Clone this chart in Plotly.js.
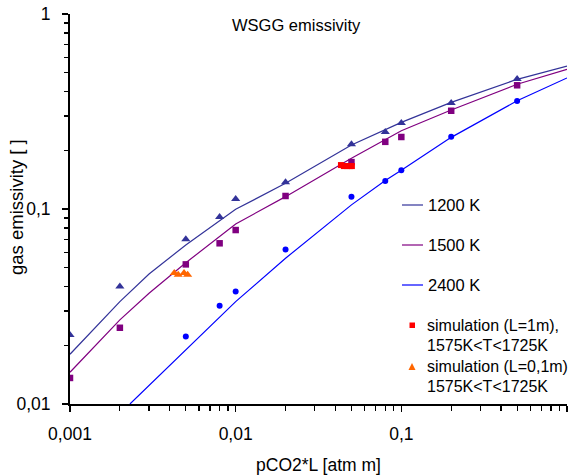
<!DOCTYPE html>
<html>
<head>
<meta charset="utf-8">
<script src="https://cdn.plot.ly/plotly-3.0.1.min.js"></script>
<style>html,body{margin:0;padding:0;background:#fff}#chart{width:571px;height:476px}</style>
</head>
<body>
<div id="chart"></div>
<script>
// ---- data ----
const xMarks = [0.001, 0.002, 0.005, 0.008, 0.01, 0.02, 0.05, 0.08, 0.1, 0.2, 0.5];
const eps1200Marks = [0.0226, 0.040, 0.070, 0.091, 0.1125, 0.137, 0.215, 0.248, 0.276, 0.35, 0.464];
const eps1500Marks = [0.0136, 0.0246, 0.052, 0.0667, 0.078, 0.1166, 0.174, 0.221, 0.234, 0.319, 0.431];
const x2400Marks = [0.005, 0.008, 0.01, 0.02, 0.05, 0.08, 0.1, 0.2, 0.5];
const eps2400Marks = [0.0222, 0.0319, 0.0377, 0.062, 0.1157, 0.139, 0.158, 0.235, 0.358];

const xLine = [0.001, 0.002, 0.003, 0.005, 0.01, 0.02, 0.05, 0.1, 0.2, 0.5, 1];
const eps1200Line = [0.018, 0.0335, 0.0464, 0.0654, 0.0996, 0.1355, 0.213, 0.278, 0.352, 0.4625, 0.541];
const eps1500Line = [0.01455, 0.027, 0.037, 0.053, 0.0838, 0.1157, 0.182, 0.252, 0.322, 0.436, 0.52];
const x2400Line = [0.0023, 0.005, 0.01, 0.02, 0.05, 0.08, 0.1, 0.2, 0.5, 1];
const eps2400Line = [0.01, 0.019, 0.0335, 0.0559, 0.105, 0.14, 0.158, 0.233, 0.359, 0.47];

const xSim1m = [0.0432, 0.045, 0.047, 0.049, 0.0503];
const epsSim1m = [0.168, 0.166, 0.166, 0.166, 0.166];
const xSim01m = [0.00426, 0.0045, 0.00488, 0.00513];
const epsSim01m = [0.047, 0.046, 0.047, 0.046];

const xTickVals = [0.001, 0.01, 0.1, 1];
const xTickText = ['0,001', '0,01', '0,1', '1'];
const yTickVals = [0.01, 0.1, 1];
const yTickText = ['0,01', '0,1', '1'];

const legendLabels = ['1200 K', '1500 K', '2400 K'];
const simLabels = [['simulation (L=1m),', '1575K<T<1725K'], ['simulation (L=0,1m)', '1575K<T<1725K']];

const C1200 = '#333399', C1500 = '#800080', C2400 = '#0000FF', CRED = '#FF0000', CORA = '#FF6600';
const FONT = 'Liberation Sans, Arial, sans-serif';

const traces = [
  {x: xLine, y: eps1200Line, mode: 'lines', line: {color: C1200, width: 1.2}, name: legendLabels[0]},
  {x: xLine, y: eps1500Line, mode: 'lines', line: {color: C1500, width: 1.2}, name: legendLabels[1]},
  {x: x2400Line, y: eps2400Line, mode: 'lines', line: {color: C2400, width: 1.2}, name: legendLabels[2]},
  {x: xMarks, y: eps1200Marks, mode: 'markers', marker: {symbol: 'triangle-up', size: 8, color: C1200}, name: '1200 K data'},
  {x: xMarks, y: eps1500Marks, mode: 'markers', marker: {symbol: 'square', size: 6.5, color: C1500}, name: '1500 K data'},
  {x: x2400Marks, y: eps2400Marks, mode: 'markers', marker: {symbol: 'circle', size: 6, color: C2400}, name: '2400 K data'},
  {x: xSim1m, y: epsSim1m, mode: 'markers', marker: {symbol: 'square', size: 6, color: CRED}, name: 'simulation (L=1m)'},
  {x: xSim01m, y: epsSim01m, mode: 'markers', marker: {symbol: 'triangle-up', size: 8, color: CORA}, name: 'simulation (L=0,1m)'}
];

// custom legend (paper coordinates), plot area 70..567 x 14..404
const px = v => (v - 70) / 497;
const py = v => (404 - v) / 390;
const legLineY = [205, 245, 285];
const legColors = [C1200, C1500, C2400];
const LEGFONT = 16;
const shapes = [];
const annotations = [
  {xref: 'paper', yref: 'paper', x: px(296), y: py(25), text: 'WSGG emissivity', showarrow: false,
   xanchor: 'center', yanchor: 'middle', font: {family: FONT, size: 16.5, color: '#000'}},
  {xref: 'paper', yref: 'paper', x: px(16), y: py(207), text: 'gas emissivity [ ]', showarrow: false, textangle: -90,
   xanchor: 'center', yanchor: 'middle', font: {family: FONT, size: 18.5, color: '#000'}}
];
legLineY.forEach((yy, i) => {
  shapes.push({type: 'line', xref: 'paper', yref: 'paper', x0: px(402), x1: px(423), y0: py(yy), y1: py(yy),
    line: {color: legColors[i], width: 1.2}});
  annotations.push({xref: 'paper', yref: 'paper', x: px(426), y: py(yy), text: legendLabels[i], showarrow: false,
    xanchor: 'left', yanchor: 'middle', font: {family: FONT, size: 16.5, color: '#000'}});
});
// red square legend symbol
shapes.push({type: 'rect', xref: 'paper', yref: 'paper', x0: px(409.5), x1: px(415), y0: py(322.5), y1: py(328),
  fillcolor: CRED, line: {width: 0}});
// orange triangle legend symbol
shapes.push({type: 'path', xref: 'paper', yref: 'paper',
  path: `M ${px(408.5)} ${py(370)} L ${px(415.5)} ${py(370)} L ${px(412)} ${py(363)} Z`,
  fillcolor: CORA, line: {width: 0}});
const simY = [[325, 345], [366, 386]];
simY.forEach((pair, i) => {
  pair.forEach((yy, j) => {
    annotations.push({xref: 'paper', yref: 'paper', x: px(425), y: py(yy), text: simLabels[i][j], showarrow: false,
      xanchor: 'left', yanchor: 'middle', font: {family: FONT, size: LEGFONT, color: '#000'}});
  });
});

const layout = {
  width: 571, height: 476,
  margin: {l: 70, r: 4, t: 14, b: 72},
  paper_bgcolor: '#fff', plot_bgcolor: '#fff',
  showlegend: false,
  font: {family: FONT, size: 17.5, color: '#000'},
  xaxis: {
    type: 'log', range: [-3, 0],
    tickmode: 'array', tickvals: xTickVals, ticktext: xTickText,
    ticks: 'outside', ticklen: 6, tickwidth: 1.5, tickcolor: '#000', ticklabelstandoff: 7,
    showline: true, linecolor: '#000', linewidth: 2, showgrid: false, zeroline: false,
    minor: {dtick: 'D1', ticks: 'outside', ticklen: 5, tickwidth: 1.2, tickcolor: '#000', showgrid: false},
    tickfont: {family: FONT, size: 17.5, color: '#000'},
    title: {text: 'pCO2*L [atm m]', font: {family: FONT, size: 17.5, color: '#000'}, standoff: 16}
  },
  yaxis: {
    type: 'log', range: [-2, 0],
    tickmode: 'array', tickvals: yTickVals, ticktext: yTickText,
    ticks: 'outside', ticklen: 6, tickwidth: 1.5, tickcolor: '#000', ticklabelstandoff: 8,
    showline: true, linecolor: '#000', linewidth: 2, showgrid: false, zeroline: false,
    minor: {dtick: 'D1', ticks: 'outside', ticklen: 4, tickwidth: 1.2, tickcolor: '#000', showgrid: false},
    tickfont: {family: FONT, size: 17.5, color: '#000'}
  },
  shapes: shapes,
  annotations: annotations
};

Plotly.newPlot('chart', traces, layout, {displayModeBar: false, staticPlot: true});
</script>
</body>
</html>
